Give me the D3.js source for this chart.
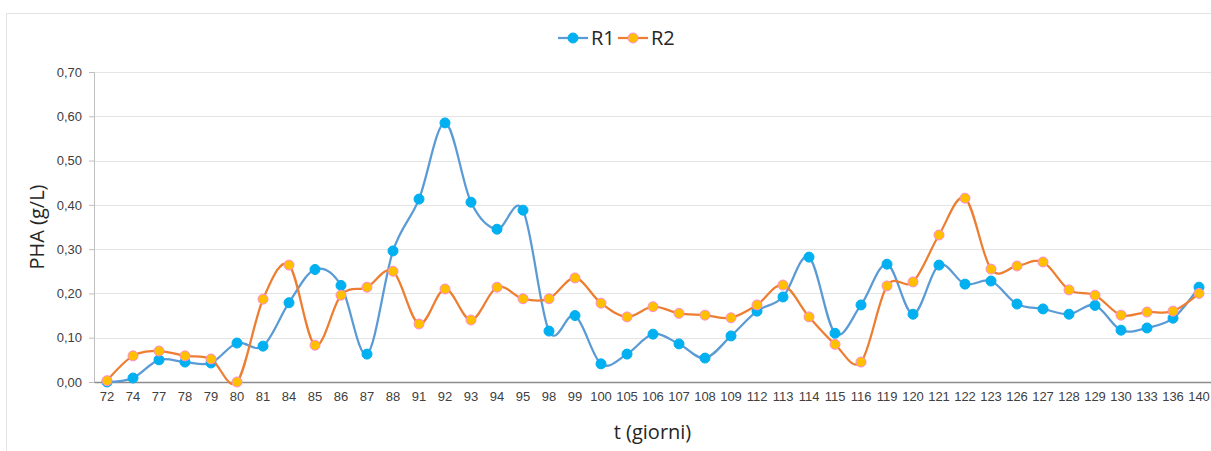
<!DOCTYPE html>
<html>
<head>
<meta charset="utf-8">
<script src="https://cdn.jsdelivr.net/npm/d3@7"></script>
<style>
  body { margin: 0; background: #fff; }
  svg { display: block; font-family: "Open Sans", "Noto Sans", sans-serif; }
</style>
</head>
<body>
<div id="chart"></div>
<script>
// PHA concentration over time, reactors R1 and R2
const days = ["72","74","77","78","79","80","81","84","85","86","87","88","91","92","93","94","95","98","99","100",
  "105","106","107","108","109","112","113","114","115","116","119","120","121","122","123","126","127","128","129","130",
  "133","136","140"];

const r1 = [0.00,0.009,0.05,0.045,0.043,0.088,0.081,0.179,0.254,0.218,0.063,0.296,0.413,0.585,0.406,0.345,0.388,0.115,0.150,0.041,
  0.063,0.108,0.086,0.054,0.104,0.160,0.192,0.282,0.110,0.174,0.266,0.153,0.264,0.221,0.228,0.176,0.165,0.153,0.173,0.117,
  0.122,0.144,0.214];

const r2 = [0.003,0.059,0.070,0.059,0.052,0.000,0.187,0.264,0.083,0.196,0.214,0.250,0.131,0.210,0.140,0.214,0.188,0.188,0.235,0.178,
  0.147,0.170,0.155,0.151,0.145,0.174,0.219,0.147,0.085,0.045,0.217,0.226,0.332,0.415,0.255,0.262,0.271,0.208,0.196,0.151,
  0.158,0.160,0.200];

const yTicks = [0, 0.1, 0.2, 0.3, 0.4, 0.5, 0.6, 0.7];

const width = 1211, height = 451;
const margin = { top: 72, right: -1, bottom: 69, left: 94 };

const svg = d3.select("#chart").append("svg")
  .attr("width", width)
  .attr("height", height);

// chart frame
svg.append("rect")
  .attr("x", 6.5).attr("y", 13.5)
  .attr("width", width + 10).attr("height", height + 10)
  .attr("fill", "none")
  .attr("stroke", "#e3e3e3");

const x = d3.scaleBand()
  .domain(days)
  .range([margin.left, width - margin.right]);

const y = d3.scaleLinear()
  .domain([0, 0.7])
  .range([height - margin.bottom, margin.top]);

const fmt = v => d3.format(".2f")(v).replace(".", ",");

// gridlines
svg.append("g")
  .selectAll("line")
  .data(yTicks.slice(1))
  .join("line")
  .attr("x1", margin.left).attr("x2", width)
  .attr("y1", d => Math.round(y(d)) + 0.5).attr("y2", d => Math.round(y(d)) + 0.5)
  .attr("stroke", "#e4e4e4")
  .attr("stroke-width", 1);

// y axis
const yAxis = svg.append("g")
  .attr("transform", `translate(${margin.left},0)`)
  .call(d3.axisLeft(y).tickValues(yTicks).tickFormat(fmt).tickSize(5).tickPadding(7));
yAxis.select(".domain").attr("stroke", "#bfbfbf");
yAxis.selectAll(".tick line").attr("stroke", "#bfbfbf");
yAxis.selectAll("text")
  .style("font-size", "13px")
  .attr("fill", "#404040");

// x axis
const xAxis = svg.append("g")
  .attr("transform", `translate(0,${y(0)})`)
  .call(d3.axisBottom(x).tickSize(0).tickPadding(10));
xAxis.select(".domain").attr("stroke", "#8c8c8c").attr("stroke-width", 1.3);
xAxis.selectAll("text")
  .style("font-size", "13px")
  .attr("fill", "#404040");

// axis titles
svg.append("text")
  .attr("transform", `translate(44,${(y(0) + y(0.7)) / 2}) rotate(-90)`)
  .attr("text-anchor", "middle")
  .style("font-size", "20px")
  .attr("fill", "#262626")
  .text("PHA (g/L)");

svg.append("text")
  .attr("x", (margin.left + width) / 2)
  .attr("y", 439)
  .attr("text-anchor", "middle")
  .style("font-size", "20px")
  .attr("fill", "#262626")
  .text("t (giorni)");

const series = [
  { name: "R1", values: r1, line: "#5b9bd5", fill: "#00b0f0", stroke: "#00b0f0" },
  { name: "R2", values: r2, line: "#ed7d31", fill: "#ffc000", stroke: "#ff8ad8" }
];

const line = d3.line()
  .x((d, i) => x(days[i]) + x.bandwidth() / 2)
  .y(d => y(d))
  .curve(d3.curveCardinal.tension(0));

series.forEach(s => {
  const g = svg.append("g");
  g.append("path")
    .datum(s.values)
    .attr("d", line)
    .attr("fill", "none")
    .attr("stroke", s.line)
    .attr("stroke-width", 2.25);
  g.selectAll("circle")
    .data(s.values)
    .join("circle")
    .attr("cx", (d, i) => x(days[i]) + x.bandwidth() / 2)
    .attr("cy", d => y(d))
    .attr("r", 5)
    .attr("fill", s.fill)
    .attr("stroke", s.stroke)
    .attr("stroke-width", 1);
});

// legend
const legend = svg.append("g").attr("transform", "translate(558,38)");
const legendItems = legend.selectAll("g")
  .data(series)
  .join("g")
  .attr("transform", (d, i) => `translate(${i * 60},0)`);
legendItems.append("line")
  .attr("x1", 0).attr("x2", 30)
  .attr("stroke", d => d.line)
  .attr("stroke-width", 2.25);
legendItems.append("circle")
  .attr("cx", 15).attr("r", 5)
  .attr("fill", d => d.fill)
  .attr("stroke", d => d.stroke);
legendItems.append("text")
  .attr("x", 33).attr("dy", "0.36em")
  .style("font-size", "20px")
  .attr("fill", "#262626")
  .text(d => d.name);
</script>
</body>
</html>
